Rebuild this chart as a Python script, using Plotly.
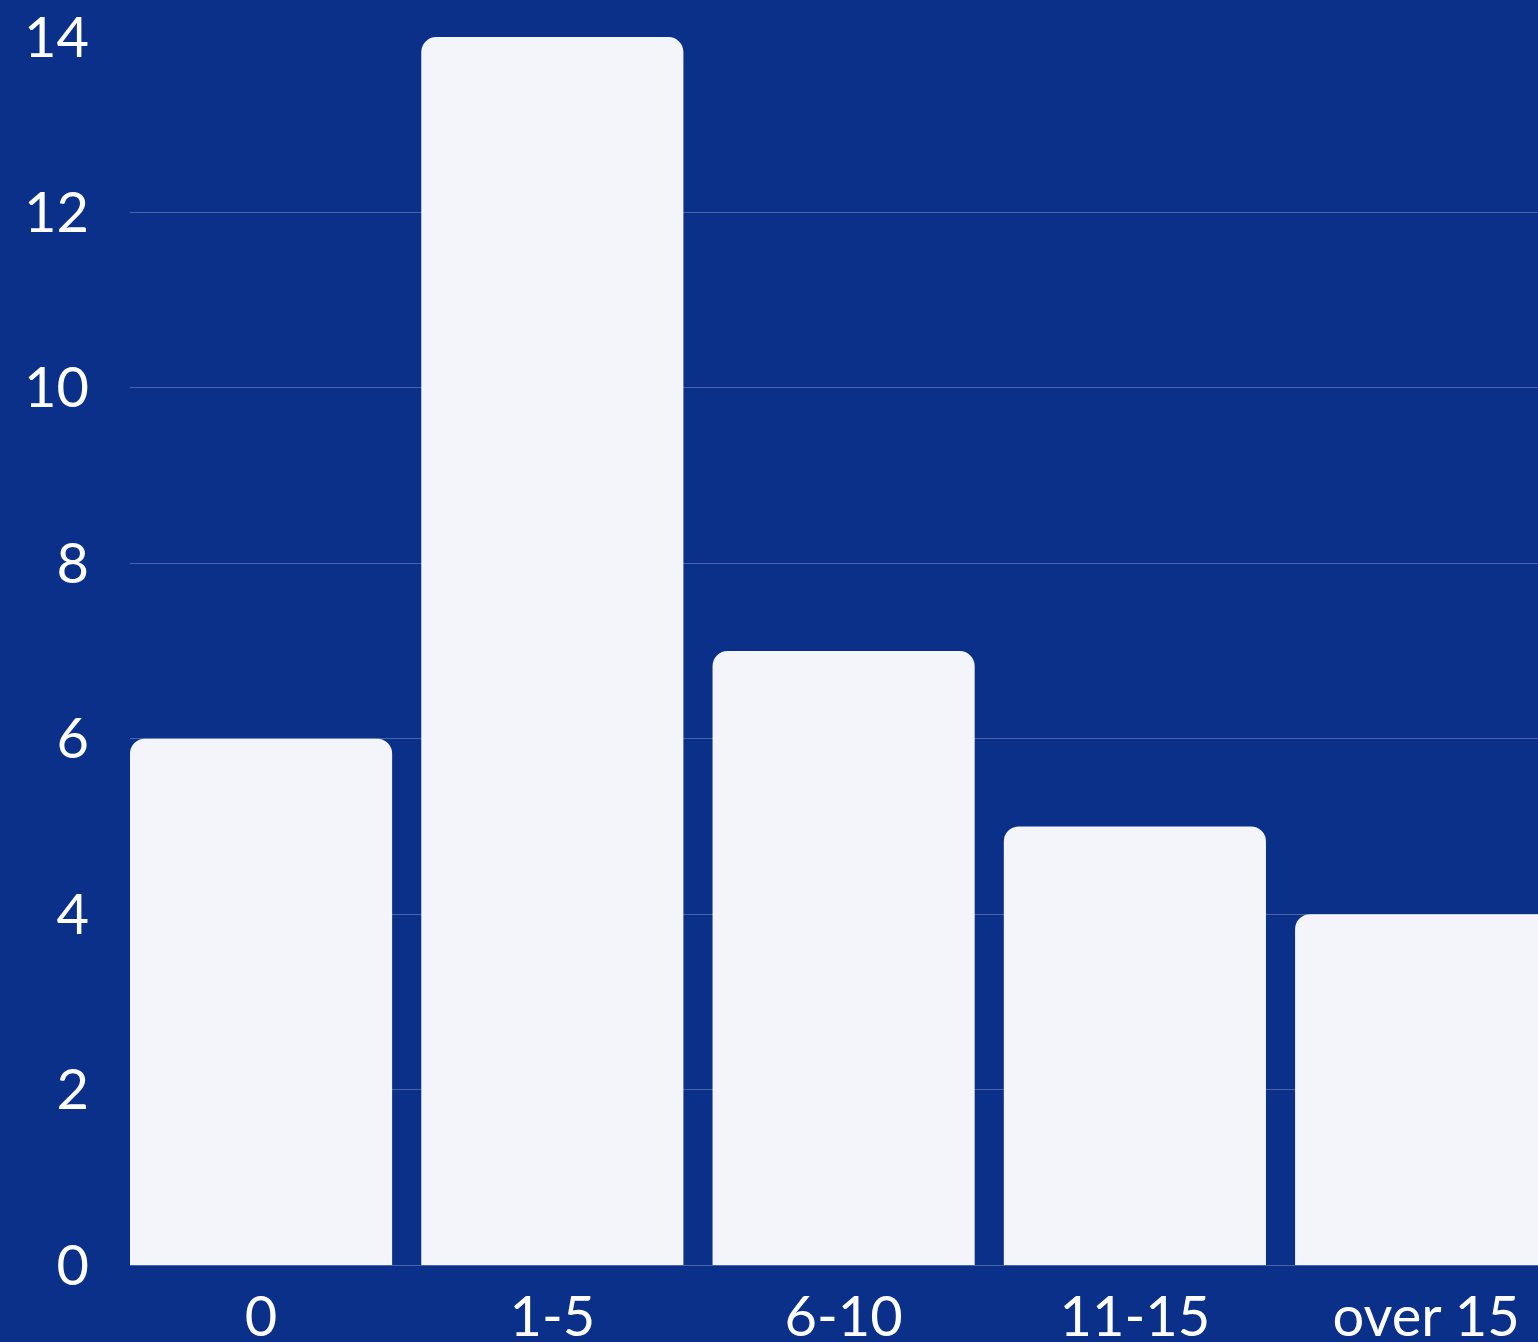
import plotly.graph_objects as go

# Counts per bucket
categories = ["0", "1-5", "6-10", "11-15", "over 15"]
counts = [6, 14, 7, 5, 4]
y_ticks = [0, 2, 4, 6, 8, 10, 12, 14]

BG = "#0B308A"
BAR = "#F4F5FA"
GRID = "rgba(255,255,255,0.25)"

fig = go.Figure(
    go.Bar(
        x=list(range(len(categories))),
        y=counts,
        marker=dict(color=BAR, line=dict(width=0)),
        hoverinfo="skip",
    )
)

fig.update_layout(
    width=1538,
    height=1342,
    margin=dict(l=130, r=0, t=37, b=77, pad=0),
    paper_bgcolor=BG,
    plot_bgcolor=BG,
    bargap=0.1,
    barcornerradius=15,
    showlegend=False,
    font=dict(family="Lato", color="white", size=56),
)

fig.update_xaxes(
    range=[-0.45, 4.384],
    tickmode="array",
    tickvals=list(range(len(categories))),
    ticktext=categories,
    showgrid=False,
    zeroline=False,
    showline=False,
    ticks="",
    automargin=False,
    ticklabelstandoff=14,
    tickfont=dict(size=56, color="white", family="Lato"),
)

fig.update_yaxes(
    range=[0, 14],
    tickmode="array",
    tickvals=y_ticks,
    showgrid=True,
    gridcolor=GRID,
    gridwidth=1,
    zeroline=True,
    zerolinecolor=GRID,
    zerolinewidth=1,
    showline=False,
    ticks="",
    automargin=False,
    ticklabelstandoff=40,
    tickfont=dict(size=56, color="white", family="Lato"),
)

fig.write_html("out.html")
